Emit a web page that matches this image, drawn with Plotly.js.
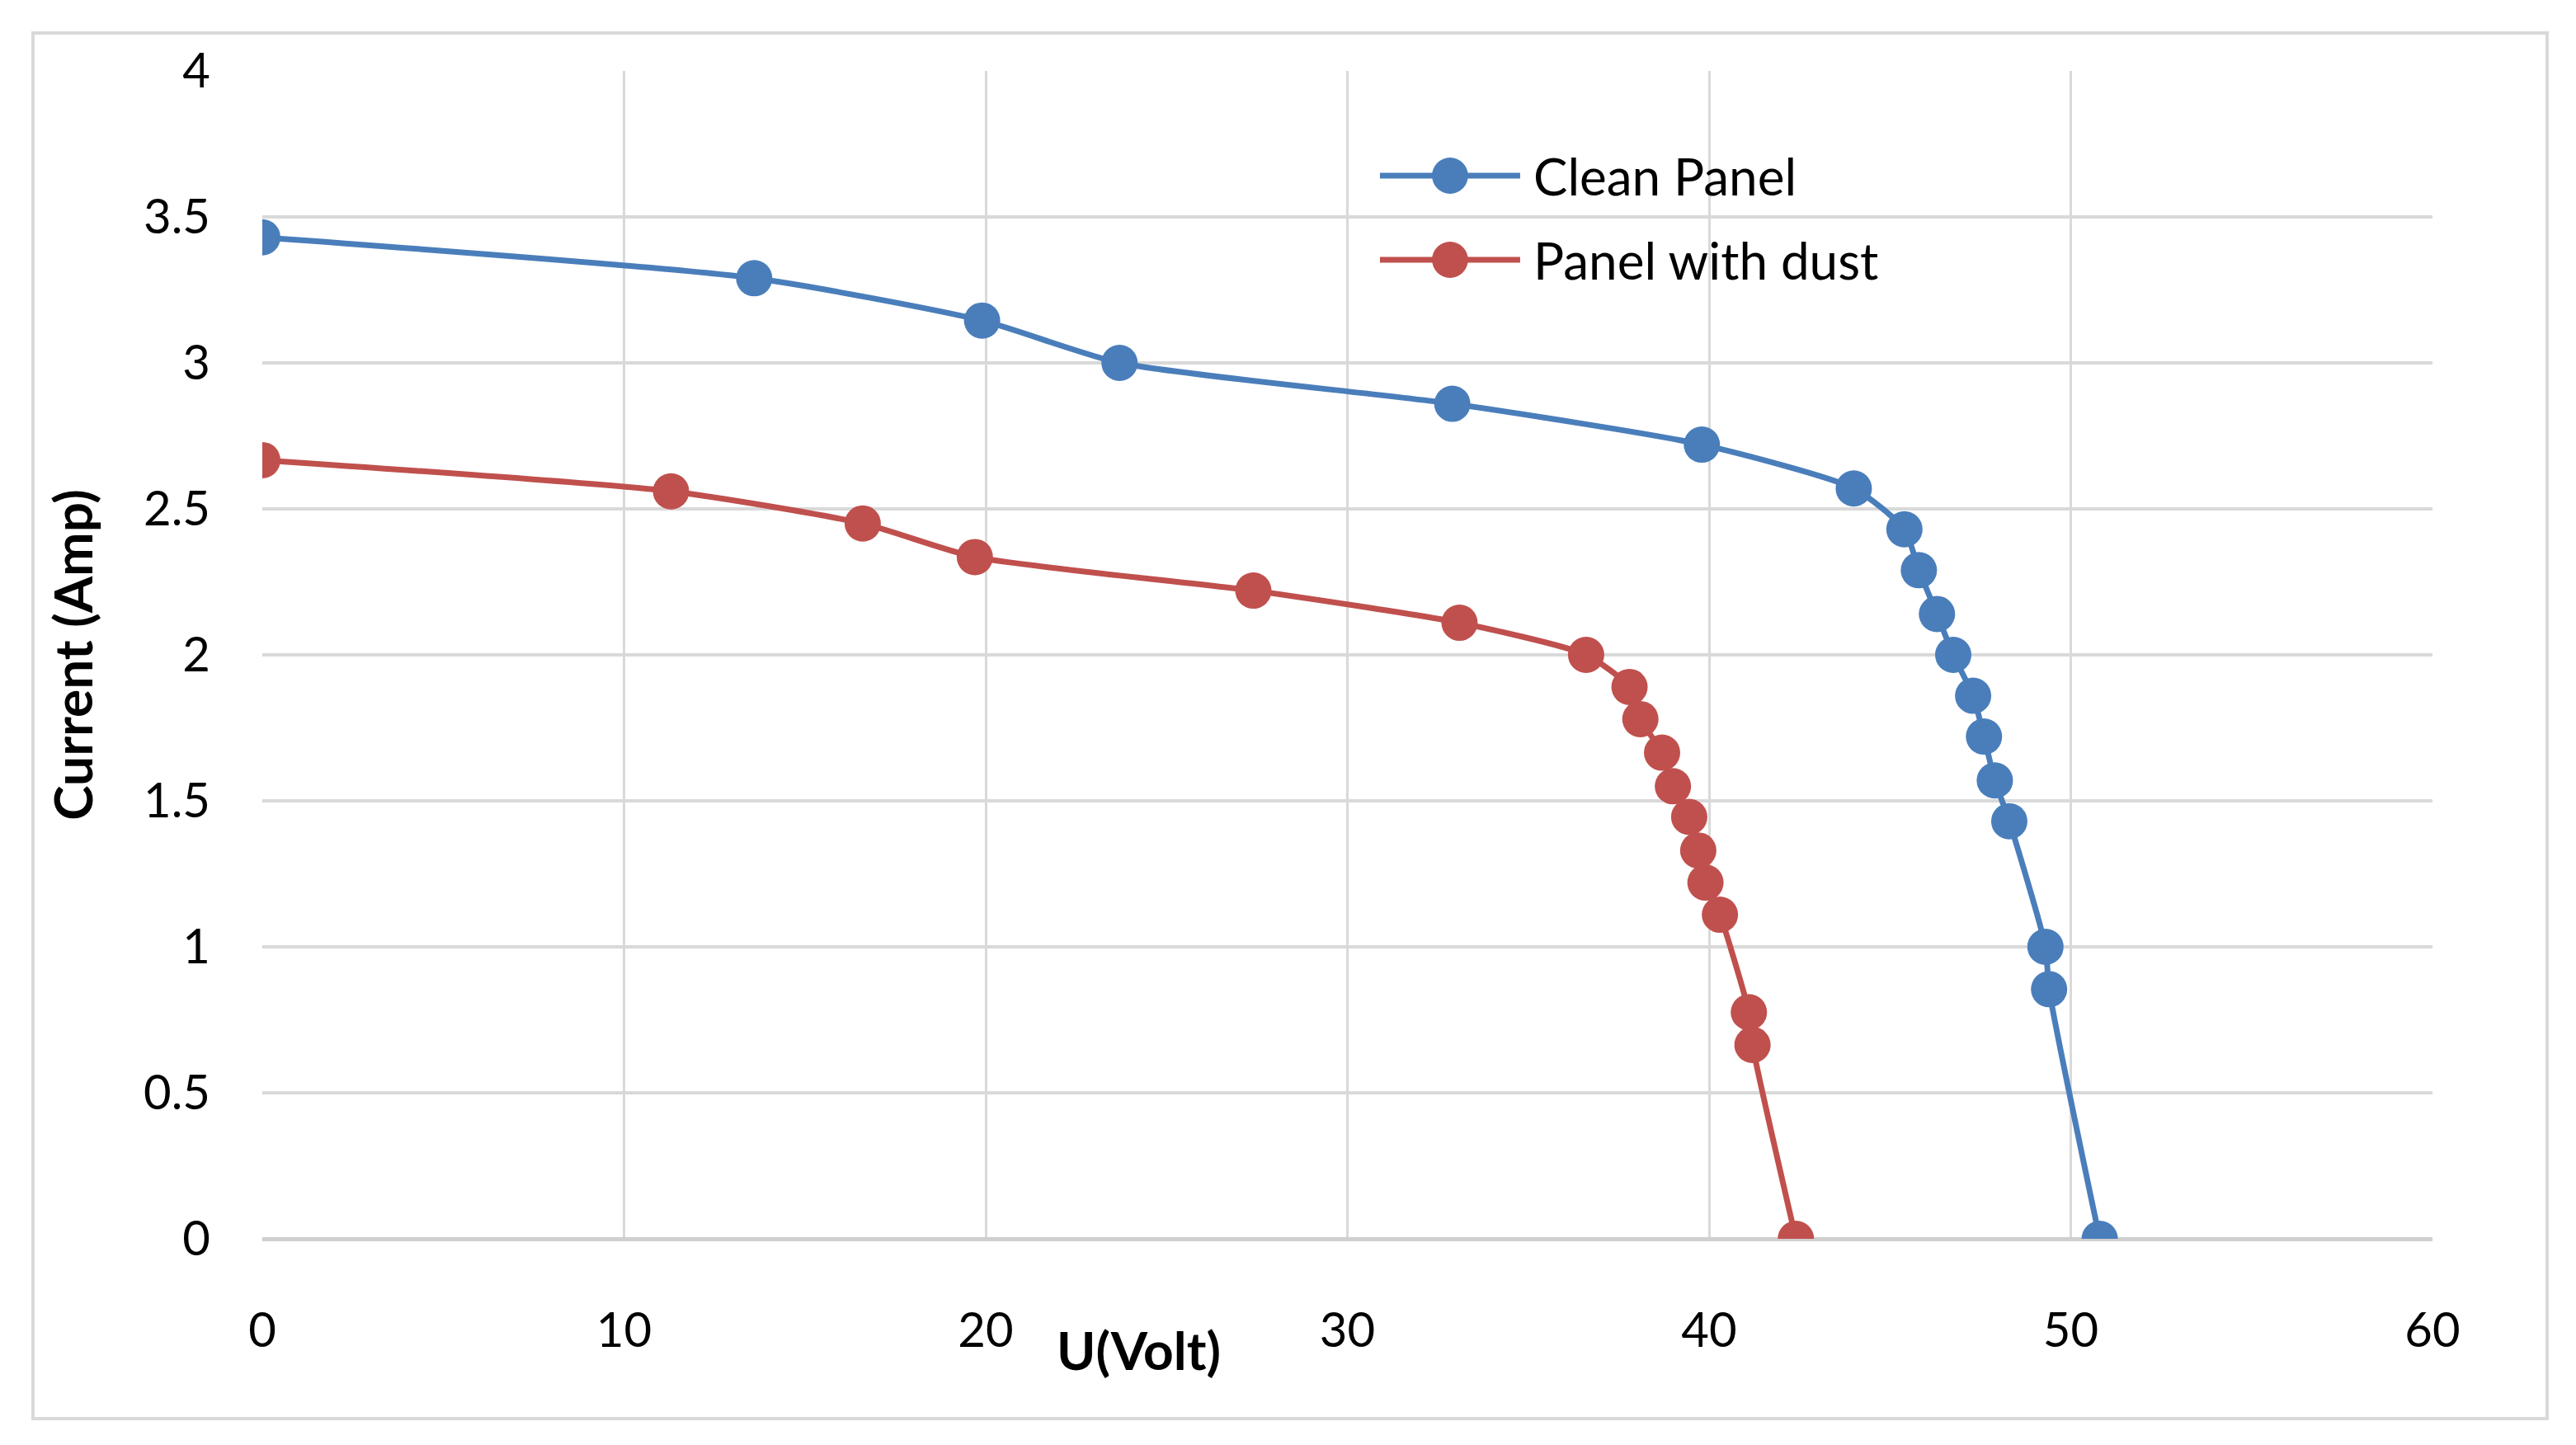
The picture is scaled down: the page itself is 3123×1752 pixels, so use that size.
<!DOCTYPE html>
<html>
<head>
<meta charset="utf-8">
<script src="https://cdn.plot.ly/plotly-3.0.1.min.js"></script>
<style>
  html, body { margin: 0; padding: 0; background: #fff; }
  #myPlot { width: 3123px; height: 1752px; }
</style>
</head>
<body>
<div id="myPlot"></div>
<script>
// I-V curves, clean panel vs panel with dust
const cleanVolt = [0, 13.6, 19.9, 23.7, 32.9, 39.8, 44.0, 45.4, 45.8, 46.3, 46.75, 47.3, 47.6, 47.9, 48.3, 49.3, 49.4, 50.8];
const cleanAmp = [3.43, 3.29, 3.145, 3.0, 2.86, 2.72, 2.57, 2.43, 2.29, 2.14, 2.0, 1.86, 1.72, 1.57, 1.43, 1.0, 0.855, 0];

const dustVolt = [0, 11.3, 16.6, 19.7, 27.4, 33.1, 36.6, 37.8, 38.1, 38.7, 39.0, 39.45, 39.7, 39.9, 40.3, 41.1, 41.2, 42.4];
const dustAmp = [2.667, 2.56, 2.45, 2.335, 2.22, 2.11, 2.0, 1.89, 1.78, 1.665, 1.55, 1.445, 1.33, 1.22, 1.11, 0.776, 0.664, 0];

const seriesNames = ["Clean Panel", "Panel with dust"];
const seriesColors = ["#4a7ebb", "#c0504d"];
const xTicks = [0, 10, 20, 30, 40, 50, 60];
const yTicks = [0, 0.5, 1, 1.5, 2, 2.5, 3, 3.5, 4];

const font = "Lato, 'Open Sans', sans-serif";

const data = [
    {
        x: cleanVolt, y: cleanAmp, name: seriesNames[0],
        mode: "lines+markers",
        line: { color: seriesColors[0], width: 7, shape: "spline", smoothing: 0.6 },
        marker: { color: seriesColors[0], size: 44 }
    },
    {
        x: dustVolt, y: dustAmp, name: seriesNames[1],
        mode: "lines+markers",
        line: { color: seriesColors[1], width: 7, shape: "spline", smoothing: 0.6 },
        marker: { color: seriesColors[1], size: 44 }
    }
];

// hand-made legend so the sample line and marker are as large as in the original
const legendRows = [0.9103, 0.8383];
const legendShapes = [];
const legendNotes = [];
seriesNames.forEach(function (name, i) {
    const yy = legendRows[i];
    legendShapes.push({
        type: "line", xref: "paper", yref: "paper",
        x0: 0.515, x1: 0.5796, y0: yy, y1: yy,
        line: { color: seriesColors[i], width: 7 }
    });
    legendShapes.push({
        type: "circle", xref: "paper", yref: "paper",
        x0: 0.5473 - 0.0083, x1: 0.5473 + 0.0083, y0: yy - 0.0155, y1: yy + 0.0155,
        fillcolor: seriesColors[i], line: { width: 0 }
    });
    legendNotes.push({
        text: name, xref: "paper", yref: "paper",
        x: 0.585, y: yy, xanchor: "left", yanchor: "middle",
        showarrow: false, font: { family: font, size: 62, color: "#000" }
    });
});

const layout = {
    width: 3123,
    height: 1752,
    margin: { l: 318, r: 174, t: 86, b: 250 },
    paper_bgcolor: "#fff",
    plot_bgcolor: "#fff",
    font: { family: font, color: "#000", size: 58 },
    showlegend: false,
    xaxis: {
        range: [0, 60],
        tickvals: xTicks,
        showgrid: true,
        gridcolor: "#d9d9d9",
        gridwidth: 3,
        zeroline: false,
        showline: false,
        ticks: "",
        ticklabelstandoff: 72,
        tickfont: { family: font, size: 58, color: "#000" },
        fixedrange: true
    },
    yaxis: {
        range: [0, 4],
        tickvals: yTicks,
        showgrid: true,
        gridcolor: "#d9d9d9",
        gridwidth: 4,
        zeroline: true,
        zerolinecolor: "#cfcfcf",
        zerolinewidth: 5,
        showline: false,
        ticks: "",
        ticklabelstandoff: 62,
        tickfont: { family: font, size: 58, color: "#000" },
        title: { text: "<b>Current (Amp)</b>", font: { family: font, size: 64, color: "#000" }, standoff: 40 },
        fixedrange: true
    },
    annotations: [
        {
            text: "<b>U(Volt)</b>", xref: "paper", yref: "paper",
            x: 0.404, y: -0.095, xanchor: "center", yanchor: "middle",
            showarrow: false, font: { family: font, size: 64, color: "#000" }
        }
    ].concat(legendNotes),
    shapes: [
        {
            type: "rect", xref: "paper", yref: "paper",
            x0: -0.1057, x1: 1.0528, y0: -0.154, y1: 1.0325,
            line: { color: "#d9d9d9", width: 4 }, layer: "below"
        }
    ].concat(legendShapes)
};

Plotly.newPlot("myPlot", data, layout, { displayModeBar: false, staticPlot: true });
</script>
</body>
</html>
